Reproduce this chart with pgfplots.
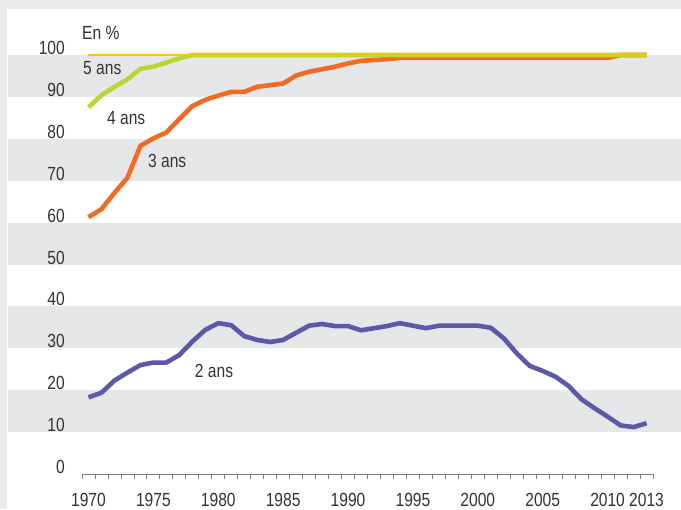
\documentclass[border=0pt]{standalone}
\usepackage{fontspec}
\setmainfont{Liberation Sans}[FakeStretch=0.82]
\usepackage{pgfplots}
\pgfplotsset{compat=1.18}

\definecolor{bandgray}{HTML}{E6E7E8}
\definecolor{framegray}{HTML}{EBEBEB}
\definecolor{txt}{HTML}{333333}
\definecolor{axisgray}{HTML}{808080}
\definecolor{c2}{HTML}{5E58A8}
\definecolor{c3}{HTML}{F26A24}
\definecolor{c4}{HTML}{BCD631}
\definecolor{c5}{HTML}{F7C600}

\begin{document}
\begin{tikzpicture}
\begin{axis}[
    set layers=standard,
    scale only axis,
    width=571bp, height=419bp,
    xmin=1969.5, xmax=2013.5,
    ymin=0, ymax=100,
    clip=false,
    axis x line=bottom, axis y line=left,
    x axis line style={-, draw=axisgray, line width=0.9bp},
    y axis line style={draw=none},
    tick align=outside,
    xtick={1970,1975,1980,1985,1990,1995,2000,2005,2010,2013},
    xticklabels={1970,1975,1980,1985,1990,1995,2000,2005,2010,2013},
    minor xtick={1969.5,1970.5,...,2013.5},
    major tick length=0pt,
    minor tick length=5bp,
    minor tick style={draw=axisgray, line width=0.8bp},
    ytick={0,10,...,100},
    font=\fontsize{19bp}{21bp}\selectfont,
    every tick label/.append style={text=txt},
    /pgf/number format/assume math mode=true,
    xticklabel style={inner sep=0pt, anchor=north, yshift=-19bp},
    yticklabel style={inner sep=0pt, anchor=east, xshift=-17bp, yshift=7bp},
]
\begin{pgfonlayer}{axis background}
  \fill[framegray] ([xshift=-82bp,yshift=-35bp]axis cs:1969.5,0) rectangle ([xshift=28bp,yshift=55bp]axis cs:2013.5,100);
  \fill[white] ([xshift=-75bp,yshift=-35bp]axis cs:1969.5,0) rectangle ([xshift=28bp,yshift=46bp]axis cs:2013.5,100);
  \fill[bandgray] ([xshift=-74bp]axis cs:1969.5,10) rectangle ([xshift=28bp]axis cs:2013.5,20);
  \fill[bandgray] ([xshift=-74bp]axis cs:1969.5,30) rectangle ([xshift=28bp]axis cs:2013.5,40);
  \fill[bandgray] ([xshift=-74bp]axis cs:1969.5,50) rectangle ([xshift=28bp]axis cs:2013.5,60);
  \fill[bandgray] ([xshift=-74bp]axis cs:1969.5,70) rectangle ([xshift=28bp]axis cs:2013.5,80);
  \fill[bandgray] ([xshift=-74bp]axis cs:1969.5,90) rectangle ([xshift=28bp]axis cs:2013.5,100);
\end{pgfonlayer}
\coordinate (bgSW) at ([xshift=-82bp,yshift=-35bp]axis cs:1969.5,0);
\coordinate (bgNE) at ([xshift=28bp,yshift=55bp]axis cs:2013.5,100);

% 2 ans
\addplot[c2, line width=4.6bp, line join=round, mark=none] coordinates {
 (1970,18.3) (1971,19.4) (1972,22.3) (1973,24.2) (1974,26.0) (1975,26.6)
 (1976,26.6) (1977,28.4) (1978,31.6) (1979,34.4) (1980,36.0) (1981,35.5)
 (1982,32.9) (1983,32.0) (1984,31.5) (1985,32.0) (1986,33.7) (1987,35.4)
 (1988,35.8) (1989,35.3) (1990,35.3) (1991,34.3) (1992,34.8) (1993,35.3)
 (1994,36.0) (1995,35.4) (1996,34.8) (1997,35.4) (1998,35.4) (1999,35.4)
 (2000,35.4) (2001,34.9) (2002,32.4) (2003,28.8) (2004,25.8) (2005,24.6)
 (2006,23.2) (2007,21.0) (2008,17.8) (2009,15.7) (2010,13.7) (2011,11.6)
 (2012,11.2) (2013,12.1)
};
% 3 ans
\addplot[c3, line width=4.6bp, line join=round, mark=none] coordinates {
 (1970,61.3) (1971,63.2) (1972,67.1) (1973,70.7) (1974,78.3) (1975,80.1)
 (1976,81.5) (1977,84.7) (1978,87.8) (1979,89.3) (1980,90.3) (1981,91.2)
 (1982,91.2) (1983,92.4) (1984,92.8) (1985,93.2) (1986,95.1) (1987,96.0)
 (1988,96.6) (1989,97.2) (1990,98.0) (1991,98.6) (1992,98.8) (1993,99.0)
 (1994,99.3) (1995,99.3) (1996,99.3) (1997,99.3) (1998,99.3) (1999,99.3)
 (2000,99.3) (2001,99.3) (2002,99.3) (2003,99.3) (2004,99.3) (2005,99.3)
 (2006,99.3) (2007,99.3) (2008,99.3) (2009,99.3) (2010,99.3) (2011,100)
 (2012,100) (2013,100)
};
% 4 ans
\addplot[c4, line width=4.6bp, line join=round, mark=none] coordinates {
 (1970,87.5) (1971,90.4) (1972,92.4) (1973,94.2) (1974,96.7) (1975,97.2)
 (1976,98.2) (1977,99.2) (1978,100) (1979,100) (1980,100) (1981,100)
 (1982,100) (1983,100) (1984,100) (1985,100) (1986,100) (1987,100)
 (1988,100) (1989,100) (1990,100) (1991,100) (1992,100) (1993,100)
 (1994,100) (1995,100) (1996,100) (1997,100) (1998,100) (1999,100)
 (2000,100) (2001,100) (2002,100) (2003,100) (2004,100) (2005,100)
 (2006,100) (2007,100) (2008,100) (2009,100) (2010,100) (2011,100)
 (2012,100) (2013,100)
};
% 5 ans
\addplot[c5, line width=2.4bp, mark=none] coordinates {
 (1970,100) (1975,100) (1980,100) (1985,100) (1990,100) (1995,100)
 (2000,100) (2005,100) (2010,100) (2013,100)
};

\node[anchor=west, inner sep=0pt, text=txt] at (axis cs:1969.5,105.3) {En \%};
\node[anchor=west, inner sep=0pt, text=txt] at (axis cs:1969.58,96.9) {5 ans};
\node[anchor=west, inner sep=0pt, text=txt] at (axis cs:1971.42,85.0) {4 ans};
\node[anchor=west, inner sep=0pt, text=txt] at (axis cs:1974.58,74.7) {3 ans};
\node[anchor=west, inner sep=0pt, text=txt] at (axis cs:1978.19,24.6) {2 ans};
\end{axis}
\pgfresetboundingbox
\useasboundingbox (bgSW) rectangle (bgNE);
\end{tikzpicture}
\end{document}
